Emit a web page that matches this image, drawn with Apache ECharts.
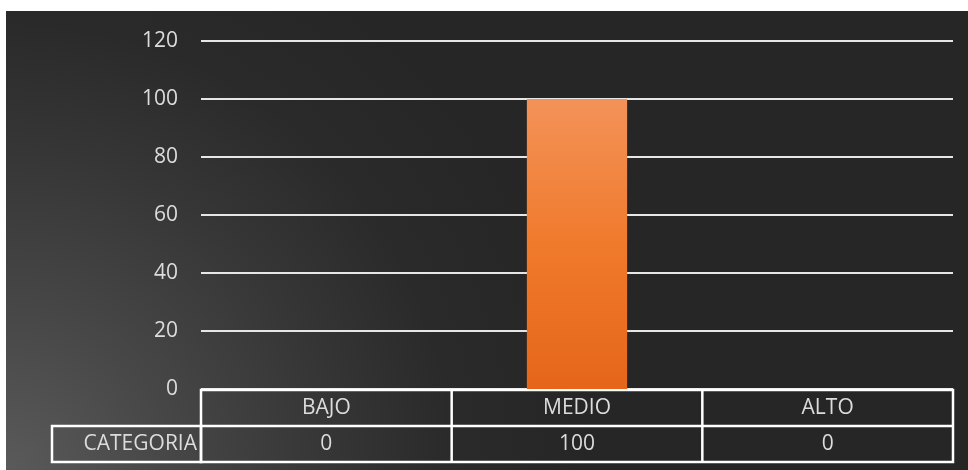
<!DOCTYPE html>
<html>
<head>
<meta charset="utf-8">
<script src="https://cdn.jsdelivr.net/npm/echarts@6/dist/echarts.min.js"></script>
<style>
  html, body { margin: 0; padding: 0; background: #ffffff; width: 968px; height: 470px; overflow: hidden; }
  #chart { position: absolute; left: 6px; top: 11px; width: 962px; height: 459px;
    background: radial-gradient(circle 640px at 0% 100%, #5a5a5a 0%, #474747 25%, #363636 50%, #2a2a2a 70%, #262626 90%); }
</style>
</head>
<body>
<div id="chart"></div>
<script>
const categories = ['BAJO', 'MEDIO', 'ALTO'];
const seriesName = 'CATEGORIA';
const values = [0, 100, 0];
const yTicks = [0, 20, 40, 60, 80, 100, 120];

const TXT = '#dcdcdc';
const FONT = 'Open Sans';
const FS = 21;
const chart = echarts.init(document.getElementById('chart'), null, { renderer: 'canvas' });

const gridLeft = 195, gridRight = 15, gridTop = 30, gridBottom = 81;

chart.setOption({
  backgroundColor: 'transparent',
  animation: false,
  grid: { left: gridLeft, right: gridRight, top: gridTop, bottom: gridBottom, containLabel: false },
  xAxis: {
    type: 'category',
    data: categories,
    axisLine: { show: false },
    axisTick: { show: false },
    axisLabel: { show: false }
  },
  yAxis: {
    type: 'value',
    min: yTicks[0],
    max: yTicks[yTicks.length - 1],
    interval: 20,
    axisLine: { show: false },
    axisTick: { show: false },
    axisLabel: { color: TXT, fontFamily: FONT, fontSize: FS, margin: 23 },
    splitLine: { show: true, lineStyle: { color: '#e6e6e6', width: 2 } }
  },
  series: [{
    name: seriesName,
    type: 'bar',
    data: values,
    barWidth: '40%',
    itemStyle: {
      color: new echarts.graphic.LinearGradient(0, 0, 0, 1, [
        { offset: 0, color: '#f39259' },
        { offset: 0.5, color: '#f07a2c' },
        { offset: 1, color: '#e5661a' }
      ]),
      shadowBlur: 8,
      shadowColor: 'rgba(0,0,0,0.55)',
      shadowOffsetX: 2,
      shadowOffsetY: 0
    }
  }]
});

function drawTable() {
  const n = categories.length;
  const x0 = chart.convertToPixel({ xAxisIndex: 0 }, 0);
  const x1 = chart.convertToPixel({ xAxisIndex: 0 }, 1);
  const band = x1 - x0;
  const left = x0 - band / 2;
  const right = left + band * n;
  const top = chart.convertToPixel({ yAxisIndex: 0 }, 0) + 1;
  const rowH = 36;
  const labelLeft = 46;
  const stroke = { stroke: '#ffffff', lineWidth: 2.5 };
  const font = FS + 'px "' + FONT + '"';
  const els = [];
  els.push({ type: 'rect', shape: { x: left, y: top, width: right - left, height: rowH * 2 }, style: Object.assign({ fill: 'none' }, stroke), silent: true });
  els.push({ type: 'rect', shape: { x: labelLeft, y: top + rowH, width: left - labelLeft, height: rowH }, style: Object.assign({ fill: 'none' }, stroke), silent: true });
  els.push({ type: 'line', shape: { x1: left, y1: top + rowH, x2: right, y2: top + rowH }, style: stroke, silent: true });
  for (let i = 1; i < n; i++) {
    const bx = left + band * i;
    els.push({ type: 'line', shape: { x1: bx, y1: top, x2: bx, y2: top + rowH * 2 }, style: stroke, silent: true });
  }
  categories.forEach((c, i) => {
    const cx = chart.convertToPixel({ xAxisIndex: 0 }, i);
    els.push({ type: 'text', x: cx, y: top + rowH / 2, style: { text: c, fill: TXT, font: font, align: 'center', verticalAlign: 'middle' }, silent: true });
    els.push({ type: 'text', x: cx, y: top + rowH * 1.5, style: { text: String(values[i]), fill: TXT, font: font, align: 'center', verticalAlign: 'middle' }, silent: true });
  });
  els.push({ type: 'text', x: left - 4, y: top + rowH * 1.5, style: { text: seriesName, fill: TXT, font: font, align: 'right', verticalAlign: 'middle' }, silent: true });
  chart.setOption({ graphic: { elements: els } });
}
drawTable();
</script>
</body>
</html>
